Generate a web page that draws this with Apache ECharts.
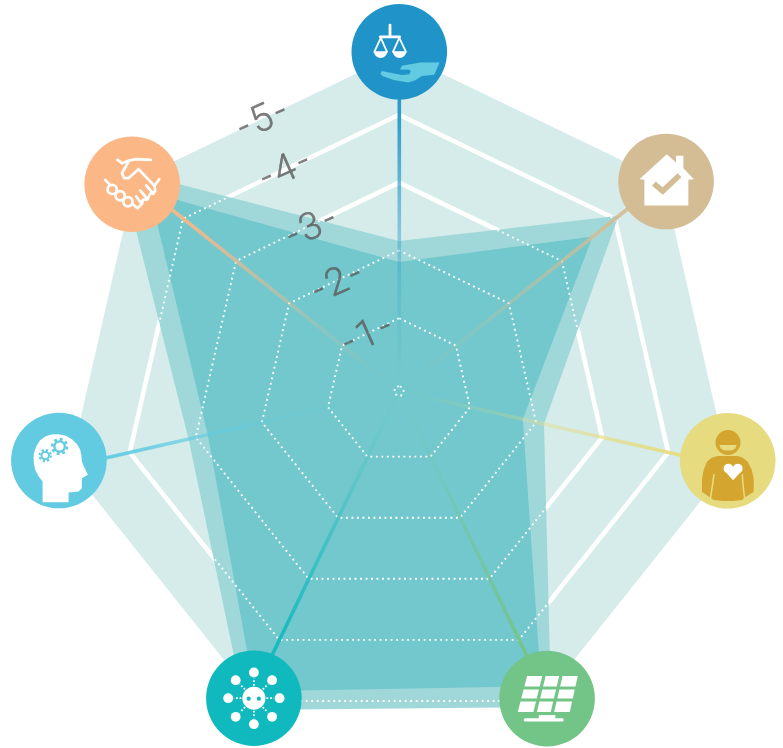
<!DOCTYPE html>
<html>
<head>
<meta charset="utf-8">
<style>html,body{margin:0;padding:0;background:#fff}#c{width:783px;height:748px}</style>
<script src="https://cdn.jsdelivr.net/npm/echarts@6/dist/echarts.min.js"></script>
</head>
<body>
<div id="c"></div>
<script>
// Axes listed clockwise from the top
const categories = ['Justice', 'Housing', 'Wellbeing', 'Solar energy', 'Community network', 'Knowledge', 'Partnership'];
const backgroundValues = [4.91, 4.91, 4.91, 4.91, 4.91, 4.91, 4.91];
const upperValues = [2.14, 4.07, 2.12, 5.10, 5.15, 3.11, 5.18];
const lowerValues = [1.83, 3.58, 1.80, 4.76, 4.84, 2.82, 4.63];
const tickLabels = ['-\u200a1\u200a-', '-\u200a2\u200a-', '-\u200a3\u200a-', '-\u200a4\u200a-', '-\u200a5\u200a-'];
const tickLabelRadius = [0.97, 1.85, 2.73, 3.65, 4.45];
const tickLabelAngle = [330.4, 330.2, 331.7, 332.7, 333.2];
const iconColors = ['#2094c9', '#d4bc94', '#e6db7e', '#73c487', '#0fb9bd', '#62cbe2', '#fbb785'];
const iconRadius = [4.93, 4.93, 4.88, 4.96, 4.94, 5.05, 4.91];
const iconAngle = [0, 51.86, 102.0, 154.34, 205.33, 258.45, 307.75];

const n = categories.length;
// The radar runs counter-clockwise from the top: re-order the clockwise lists for it
const ccw = a => [a[0]].concat(a.slice(1).reverse());
const indicator = ccw(categories).map(name => ({name, min: 0, max: 5}));

const P = (pts, fill) => ({type: 'polygon', shape: {points: pts}, style: {fill}});
const L = (pts, stroke, w, extra) => ({type: 'polyline', shape: {points: pts}, style: Object.assign({fill: null, stroke, lineWidth: w, lineCap: 'round', lineJoin: 'round'}, extra || {})});
const C = (cx, cy, r, fill) => ({type: 'circle', shape: {cx, cy, r}, style: {fill}});
const O = (cx, cy, r, stroke, w, dash) => ({type: 'circle', shape: {cx, cy, r}, style: {fill: null, stroke, lineWidth: w, lineDash: dash || null}});
const W = '#fff';

function glyphJustice() {
  return [
    L([[-9.3, -26.7], [-9.3, -15]], W, 2.8),
    L([[-19, -15], [0.3, -15]], W, 2.8),
    L([[-25, 0], [-18.5, -14], [-12.3, 0]], W, 1.8),
    L([[-6.3, 0], [0, -14], [6.7, 0]], W, 1.8),
    {type: 'sector', shape: {cx: -18.7, cy: -0.6, r0: 0, r: 6.7, startAngle: 0, endAngle: Math.PI}, style: {fill: W}},
    {type: 'sector', shape: {cx: 0.2, cy: -0.6, r0: 0, r: 6.7, startAngle: 0, endAngle: Math.PI}, style: {fill: W}},
    P([[40.3, 10.7], [35, 23], [22.7, 24.3], [16, 28.5], [9, 30.7], [-5.7, 28.3], [-17, 24.3], [-19, 21.5], [-17.5, 19.3], [2.3, 23.3], [10, 22.5], [11.5, 19.5], [10, 18], [0.7, 17.7], [2.7, 14], [21, 10.7]], '#62cbe2')
  ];
}
function glyphHouse() {
  return [
    P([[-26.7, -2.3], [0.7, -27.3], [10, -19], [10, -25.7], [17.3, -25.7], [17.3, -13.3], [28, -2.3], [22.3, -1.7], [22.3, 24], [-21.7, 24], [-21.7, -1.7]], W),
    L([[-12.2, 2], [-3.3, 9.5], [13.5, -6.3]], '#d4bc94', 5.6, {lineCap: 'butt', lineJoin: 'miter'})
  ];
}
function glyphPerson() {
  const gold = '#d4a52f', bg = '#e6db7e';
  return [
    C(0.3, -18.3, 12.5, gold),
    P([[-8.3, -15.8], [8.9, -15.8], [7.6, -12.4], [4, -10.2], [-3.4, -10.2], [-7, -12.4]], bg),
    P([[-25.7, 31], [-25.7, 18], [-24, 9], [-20.7, 1], [-16, -3], [-10, -4.7], [10, -4.7], [15, -3], [20, 1], [24, 9], [26, 18], [26, 31], [16.7, 37], [14.3, 39.3], [5, 40.3], [-5, 40.3], [-14, 39.3], [-17.3, 37]], gold),
    L([[-13.8, 14], [-15.5, 26], [-17.3, 38]], bg, 1.6),
    L([[14.6, 14], [15.5, 26], [17, 38]], bg, 1.6),
    C(0.7, 7.7, 4.8, W), C(10.1, 7.7, 4.8, W),
    P([[-3.9, 9.3], [5.4, 19.4], [14.8, 9.3], [5.4, 6.5]], W)
  ];
}
function glyphPanel() {
  const out = [];
  const tl = [-20, -22.7], tr = [30.7, -22.7], bl = [-29.3, 13.3], br = [22.7, 13.3];
  const at = (u, v) => [
    tl[0] + (tr[0] - tl[0]) * u + (bl[0] - tl[0]) * v + ((br[0] - bl[0]) - (tr[0] - tl[0])) * u * v,
    tl[1] + (bl[1] - tl[1]) * v
  ];
  const gapU = 0.033, gapV = 0.042;
  for (let r = 0; r < 3; r++) for (let c = 0; c < 3; c++) {
    const u0 = c / 3 + (c ? gapU : 0), u1 = (c + 1) / 3 - (c < 2 ? gapU : 0);
    const v0 = r / 3 + (r ? gapV : 0), v1 = (r + 1) / 3 - (r < 2 ? gapV : 0);
    out.push(P([at(u0, v0), at(u1, v0), at(u1, v1), at(u0, v1)], W));
  }
  out.push({type: 'rect', shape: {x: -8.3, y: 16.5, width: 16.6, height: 4}, style: {fill: W}});
  out.push({type: 'rect', shape: {x: -23.3, y: 19.7, width: 40, height: 3.2, r: 1.6}, style: {fill: W}});
  return out;
}
function glyphSocket() {
  const hub = '#0fb9bd', out = [];
  const dots = [[0, -25.7], [18.2, -18], [25.7, 0], [18.2, 18.6], [0, 26], [-18.2, 18.6], [-25.7, 0], [-18.2, -18]];
  dots.forEach(d => {
    const len = Math.hypot(d[0], d[1]), ux = d[0] / len, uy = d[1] / len;
    out.push(L([[ux * 12.5, uy * 12.5], [ux * 20, uy * 20]], W, 1.8, {lineDash: [1.8, 1.8], lineCap: 'butt'}));
    out.push(C(d[0], d[1], 4.9, W));
  });
  out.push(C(0, 0, 11.5, W), C(-5.2, 0.5, 2.1, hub), C(5, 0.5, 2.1, hub));
  return out;
}
function glyphHead() {
  const blue = '#62cbe2';
  return [
    P([[-16.3, 41.7], [9.7, 41.7], [9.7, 32], [19.7, 31], [23, 27.7], [23, 17.7], [29, 14.3], [25, 6], [23, 1], [22.5, -5], [21.3, -10.7], [18, -16.5], [13, -21.3], [7, -24.8], [-0.3, -26.3], [-7.5, -26], [-13.7, -24], [-19, -20], [-22.7, -14], [-25, -7], [-25.3, -2.3], [-25, 3], [-23.7, 9.3], [-20.5, 15.5], [-16.3, 21]], W),
    C(0.7, -14, 6.4, blue), O(0.7, -14, 7.4, blue, 2.6, [2.9, 2.9]), C(0.7, -14, 4, W),
    C(-13.7, -5, 4.7, blue), O(-13.7, -5, 5.7, blue, 2.1, [2.2, 2.3]), C(-13.7, -5, 2.7, W)
  ];
}
function glyphHands() {
  return [
    L([[-14.7, -24.3], [-10.3, -21], [-3, -23.7], [4, -25], [18.7, -24.3]], W, 2.7),
    L([[-3, -23.7], [-10.3, -11], [-8, -6], [-3.7, -6], [6.3, -15], [22.3, 1.7], [27, -5]], W, 2.7),
    L([[22.3, 1.7], [23, 7.3], [18, 9.7], [15.3, 15], [10.7, 15.7], [9.7, 19.7], [5.3, 24], [1.3, 20.7]], W, 2.7),
    L([[8, 6.3], [15.3, 15]], W, 2.7),
    L([[14, 1.3], [21.3, 9.7]], W, 2.7),
    L([[4, 12.3], [9.7, 19.7]], W, 2.7),
    L([[-27, -4.3], [-22, 0.7]], W, 2.7),
    O(-20, 5.2, 4.6, W, 2.7), O(-12, 11.5, 4.6, W, 2.7), O(-4.3, 17.5, 4.6, W, 2.7)
  ];
}
const glyphs = [glyphJustice, glyphHouse, glyphPerson, glyphPanel, glyphSocket, glyphHead, glyphHands];

const spokeSeries = iconColors.map((color, i) => {
  const a = i * 360 / n, s = Math.sin(a * Math.PI / 180), c = Math.cos(a * Math.PI / 180);
  const x = Math.abs(s) < 1e-6 ? 0 : (s > 0 ? 1 : 0), x2 = Math.abs(s) < 1e-6 ? 0 : (s > 0 ? 0 : 1);
  const y = c >= 0 ? 0 : 1, y2 = c >= 0 ? 1 : 0;
  const fade = alpha => echarts.color.modifyAlpha(color, alpha);
  return {
    type: 'line', coordinateSystem: 'polar', z: 6, silent: true, clip: false,
    symbol: 'none', animation: false,
    data: [[5, a], [0, a]],
    lineStyle: {width: 3.6, cap: 'butt', color: {type: 'linear', x, y, x2, y2, colorStops: [
      {offset: 0, color: fade(1)},
      {offset: 0.22, color: fade(0.9)},
      {offset: 0.45, color: fade(0.55)},
      {offset: 0.7, color: fade(0.2)},
      {offset: 0.92, color: fade(0.02)},
      {offset: 1, color: fade(0)}
    ]}}
  };
});

const ringOptions = {
  center: [399, 391], radius: [5, 344], startAngle: 90, shape: 'polygon', splitNumber: 5,
  indicator,
  axisName: {show: false}, axisLine: {show: false}, axisTick: {show: false}, axisLabel: {show: false},
  splitArea: {show: false}
};
const none = 'rgba(0,0,0,0)';

const option = {
  backgroundColor: '#fff',
  animation: false,
  polar: {center: [399.3, 391], radius: 344},
  radiusAxis: {min: 0, max: 5, show: false},
  angleAxis: {type: 'value', min: 0, max: 360, startAngle: 90, clockwise: true, show: false},
  radar: [
    Object.assign({}, ringOptions, {
      z: 2,
      splitLine: {show: true, lineStyle: {width: 4.6, color: [none, none, none, '#fff', '#fff', none]}}
    }),
    Object.assign({}, ringOptions, {
      z: 5,
      splitLine: {show: true, lineStyle: {width: 1.9, color: '#fff', type: [1.9, 3.6], cap: 'butt'}}
    })
  ],
  series: [
    {
      type: 'radar', radarIndex: 0, z: 1, silent: true, symbol: 'none',
      data: [{name: 'Scale', value: ccw(backgroundValues), lineStyle: {width: 0}, areaStyle: {color: '#d5ecea', opacity: 1}}]
    },
    {
      type: 'radar', radarIndex: 0, z: 3, silent: true, symbol: 'none',
      data: [
        {name: 'Upper', value: ccw(upperValues), lineStyle: {width: 0}, areaStyle: {color: '#a0d8d9', opacity: 1}},
        {name: 'Lower', value: ccw(lowerValues), lineStyle: {width: 0}, areaStyle: {color: '#72c8cc', opacity: 1}}
      ]
    }
  ].concat(spokeSeries, [
    {
      type: 'custom', coordinateSystem: 'polar', z: 8, silent: true, clip: false,
      encode: {radius: 0, angle: 1},
      data: iconRadius.map((r, i) => [r, iconAngle[i], i]),
      renderItem(params, api) {
        const i = api.value(2);
        const pt = api.coord([api.value(0), api.value(1)]);
        return {type: 'group', x: pt[0], y: pt[1], children: [C(0, 0, 47.8, iconColors[i])].concat(glyphs[i]())};
      }
    },
    {
      type: 'scatter', coordinateSystem: 'polar', z: 9, silent: true, symbolSize: 1,
      itemStyle: {color: none},
      data: tickLabels.map((t, i) => [tickLabelRadius[i], tickLabelAngle[i], t]),
      label: {
        show: true, position: 'inside', rotate: 24, offset: [0, 4], color: '#5c5c5c',
        fontFamily: 'Roboto', fontWeight: 300, fontSize: 38,
        textBorderColor: '#5c5c5c', textBorderWidth: 0.5,
        formatter: p => p.data[2]
      }
    }
  ])
};
echarts.init(document.getElementById('c'), null, {renderer: 'canvas'}).setOption(option);
</script>
</body>
</html>
